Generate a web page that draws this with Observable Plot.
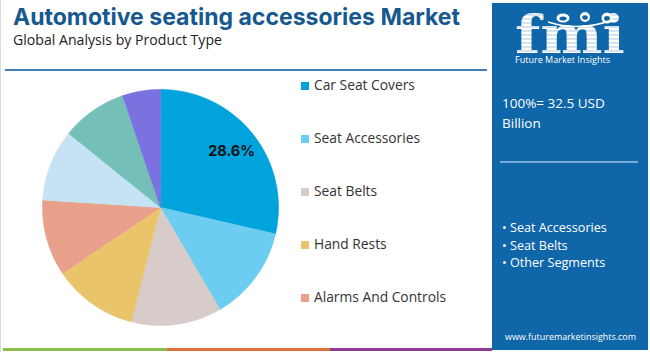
<!DOCTYPE html>
<html>
<head>
<meta charset="utf-8">
<script src="https://cdn.jsdelivr.net/npm/d3@7"></script>
<script src="https://cdn.jsdelivr.net/npm/@observablehq/plot@0.6"></script>
<style>
  html, body { margin: 0; padding: 0; background: #fff; }
  #wrap { position: relative; width: 650px; height: 352px; overflow: hidden; }
  #decor { position: absolute; left: 0; top: 0; }
  #pie { position: absolute; left: 40px; top: 87px; }
</style>
</head>
<body>
<div id="wrap">
  <svg id="decor" width="650" height="352"></svg>
  <div id="pie"></div>
</div>
<script>
const title = "Automotive seating accessories Market";
const subtitle = "Global Analysis by Product Type";
const categories = ["Car Seat Covers", "Seat Accessories", "Seat Belts", "Hand Rests", "Alarms And Controls", "Seat Cushions", "Lumbar Supports", "Others"];
const shares = [28.6, 13.0, 12.4, 11.6, 10.4, 9.8, 9.0, 5.2];
const colors = ["#00a3dc", "#6ccdf1", "#d7ccc9", "#e9c46a", "#e9a08a", "#c5e3f4", "#74bfb8", "#7b72e0"];
const legendItems = categories.slice(0, 5);
const labeled = ["Car Seat Covers"];
const totalLines = ["100%= 32.5 USD", "Billion"];
const panelBullets = ["Seat Accessories", "Seat Belts", "Other Segments"];
const url = "www.futuremarketinsights.com";

// ---------- decoration (title, legend, side panel) ----------
const decor = d3.select("#decor");
decor.append("rect").attr("width", 650).attr("height", 352).attr("fill", "#fff");
decor.append("line").attr("x1", 0.5).attr("x2", 0.5).attr("y1", 0).attr("y2", 352).attr("stroke", "#dcdcdc");

decor.append("text").text(title).attr("x", 13).attr("y", 25)
  .attr("font-family", "Inter, 'Open Sans', sans-serif").attr("font-weight", 700).attr("font-size", 23.5)
  .attr("fill", "#17598f").attr("textLength", 447).attr("lengthAdjust", "spacingAndGlyphs");
decor.append("text").text(subtitle).attr("x", 13).attr("y", 45)
  .attr("font-family", "'Open Sans', sans-serif").attr("font-size", 15)
  .attr("fill", "#222").attr("textLength", 209).attr("lengthAdjust", "spacingAndGlyphs");
decor.append("line").attr("x1", 5).attr("x2", 487).attr("y1", 70).attr("y2", 70)
  .attr("stroke", "#3f80ba").attr("stroke-width", 2);

// legend
const colorOf = new Map(categories.map((c, i) => [c, colors[i]]));
legendItems.forEach((c, i) => {
  const y0 = 90 + i * 53;
  decor.append("rect").attr("x", 301).attr("y", y0 - 8).attr("width", 8).attr("height", 8).attr("fill", colorOf.get(c));
  decor.append("text").text(c).attr("x", 314).attr("y", y0)
    .attr("font-family", "'Open Sans', sans-serif").attr("font-size", 13.8).attr("fill", "#333");
});

// side panel
decor.append("rect").attr("x", 492).attr("y", 3).attr("width", 156).attr("height", 347).attr("fill", "#0f66a8");
const defs = decor.append("defs");
const pat = defs.append("pattern").attr("id", "stripes").attr("patternUnits", "userSpaceOnUse")
  .attr("width", 10).attr("height", 4);
pat.append("rect").attr("width", 10).attr("height", 2.8).attr("fill", "#fff");
pat.append("rect").attr("y", 2.8).attr("width", 10).attr("height", 1.2).attr("fill", "#d9e6f2");
decor.append("text").text("fmi").attr("x", 515).attr("y", 53)
  .attr("font-family", "'DejaVu Serif', serif").attr("font-weight", 700).attr("font-size", 52)
  .attr("fill", "url(#stripes)").attr("textLength", 110).attr("lengthAdjust", "spacingAndGlyphs");
[[563, 18, 6.5, 4.5], [585, 17, 5, 5], [607, 18, 5.5, 5.5]].forEach(([cx, cy, rx, ry]) => {
  decor.append("ellipse").attr("cx", cx).attr("cy", cy).attr("rx", rx).attr("ry", ry).attr("fill", "#fff");
  decor.append("ellipse").attr("cx", cx).attr("cy", cy + 0.5).attr("rx", rx * 0.55).attr("ry", ry * 0.45).attr("fill", "#0f66a8");
});
decor.append("path").attr("d", "M548,22 Q580,32 612,20").attr("fill", "none").attr("stroke", "#fff").attr("stroke-width", 1.5);
decor.append("text").text("Future Market Insights").attr("x", 515).attr("y", 63)
  .attr("font-family", "'Open Sans', sans-serif").attr("font-size", 9.5).attr("fill", "#fff")
  .attr("textLength", 95).attr("lengthAdjust", "spacingAndGlyphs");

totalLines.forEach((t, i) => {
  decor.append("text").text(t).attr("x", 502).attr("y", 108 + i * 19.5)
    .attr("font-family", "'Open Sans', sans-serif").attr("font-size", 13.5).attr("fill", "#fff");
});
decor.append("line").attr("x1", 500).attr("x2", 638).attr("y1", 162).attr("y2", 162)
  .attr("stroke", "#9cc3e6").attr("stroke-width", 1.5);
panelBullets.forEach((t, i) => {
  decor.append("text").text("\u2022 " + t).attr("x", 502).attr("y", 232 + i * 17.5)
    .attr("font-family", "'Open Sans', sans-serif").attr("font-size", 12.6).attr("fill", "#fff");
});
decor.append("text").text(url).attr("x", 505).attr("y", 340)
  .attr("font-family", "'Open Sans', sans-serif").attr("font-size", 9.6).attr("fill", "#fff")
  .attr("textLength", 131).attr("lengthAdjust", "spacingAndGlyphs");

// bottom colour bars
[["#8cc04b", 3, 167], ["#e0703a", 167, 330], ["#8e3d93", 330, 492]].forEach(([c, a, b]) => {
  decor.append("rect").attr("x", a).attr("y", 348).attr("width", b - a).attr("height", 3).attr("fill", c);
});

// ---------- pie via Plot ----------
const total = d3.sum(shares);
const polys = [];
const labels = [];
let acc = 0;
categories.forEach((c, i) => {
  const a0 = acc / total * 2 * Math.PI;
  const a1 = (acc + shares[i]) / total * 2 * Math.PI;
  acc += shares[i];
  const n = Math.max(2, Math.ceil((a1 - a0) / 0.01));
  polys.push({cat: c, x: 0, y: 0});
  for (let k = 0; k <= n; ++k) {
    const a = a0 + (a1 - a0) * k / n;
    polys.push({cat: c, x: Math.sin(a), y: Math.cos(a)});
  }
  if (labeled.includes(c)) {
    const am = (a0 + a1) / 2;
    labels.push({x: 0.77 * Math.sin(am), y: 0.77 * Math.cos(am), text: shares[i].toFixed(1) + "%"});
  }
});

const chart = Plot.plot({
  width: 240,
  height: 240,
  margin: 2,
  x: {domain: [-1, 1], axis: null},
  y: {domain: [-1, 1], axis: null},
  color: {domain: categories, range: colors},
  marks: [
    Plot.line(polys, {x: "x", y: "y", z: "cat", fill: "cat", stroke: "cat", strokeWidth: 0.6, curve: "linear-closed"}),
    Plot.text(labels, {x: "x", y: "y", text: "text", fontSize: 14.5, fontWeight: 700, fill: "#111",
      fontFamily: "Inter, Roboto, sans-serif"})
  ]
});
document.getElementById("pie").appendChild(chart);
</script>
</body>
</html>
